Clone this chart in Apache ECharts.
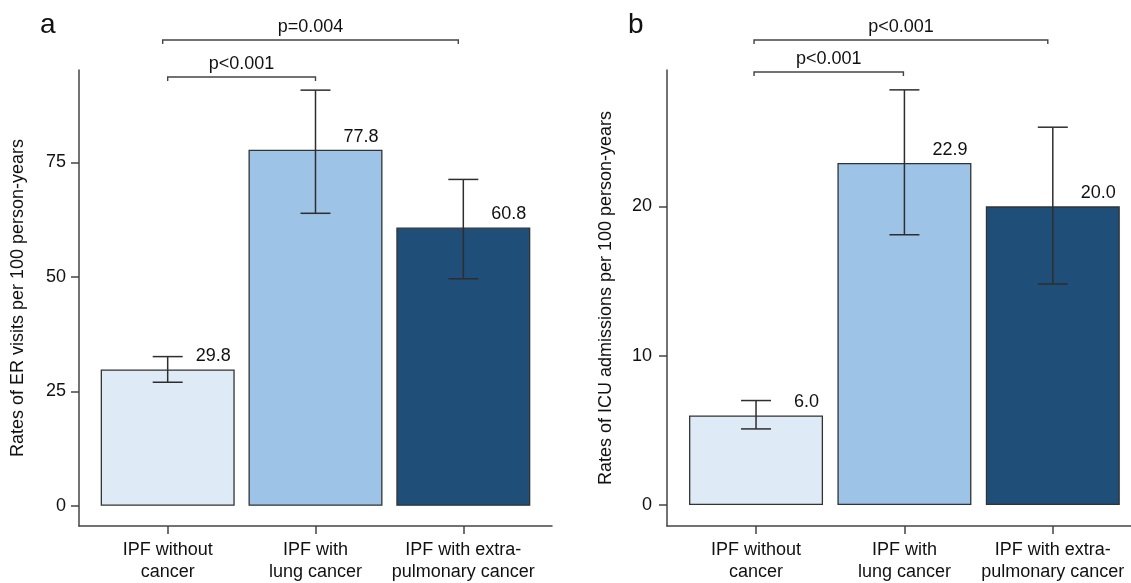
<!DOCTYPE html>
<html>
<head>
<meta charset="utf-8">
<script src="https://cdn.jsdelivr.net/npm/echarts@6/dist/echarts.min.js"></script>
<style>
html,body{margin:0;padding:0;background:#fff;}
#chart{width:1131px;height:583px;}
</style>
</head>
<body>
<div id="chart"></div>
<script>
// ---- data ----
const categories = ['IPF without\ncancer', 'IPF with\nlung cancer', 'IPF with extra-\npulmonary cancer'];
const catPos = [1, 2, 3];

const erRates = [29.8, 77.8, 60.8];
const erLow = [27.0, 63.9, 49.6];
const erHigh = [32.6, 90.8, 71.3];
const erTicks = [0, 25, 50, 75];

const icuRates = [6.0, 22.9, 20.0];
const icuLow = [5.1, 18.1, 14.8];
const icuHigh = [7.0, 27.8, 25.3];
const icuTicks = [0, 10, 20];

const erPairs = [[1, 2], [1, 3]];
const erPLabels = ['p<0.001', 'p=0.004'];
const icuPairs = [[1, 2], [1, 3]];
const icuPLabels = ['p<0.001', 'p<0.001'];

const panelLetters = ['a', 'b'];
const yTitles = ['Rates of ER visits per 100 person-years', 'Rates of ICU admissions per 100 person-years'];

// ---- style ----
const FONT = '"Liberation Sans", Arial, Helvetica, sans-serif';
const TXT = '#111';
const AX = '#444';
const FS = 18;
const barColors = ['#deeaf6', '#9dc3e6', '#1f4e79'];

const chart = echarts.init(document.getElementById('chart'));

function xAxisDef(gi, max) {
  return {
    gridIndex: gi, type: 'value', min: 0.4, max: max,
    axisLine: { show: true, onZero: false, lineStyle: { color: AX, width: 1.5 } },
    axisTick: { show: true, customValues: catPos, length: 8, lineStyle: { color: AX, width: 1.5 } },
    axisLabel: {
      customValues: catPos, margin: 13, fontSize: FS, lineHeight: 22, color: TXT, fontFamily: FONT,
      formatter: v => categories[Math.round(v) - 1]
    },
    splitLine: { show: false }
  };
}
function yAxisDef(gi, min, max, ticks, title, margin, gap) {
  return {
    gridIndex: gi, type: 'value', min: min, max: max,
    name: title, nameLocation: 'middle', nameGap: gap,
    nameTextStyle: { fontSize: FS, color: TXT, fontFamily: FONT },
    axisLine: { show: true, onZero: false, lineStyle: { color: AX, width: 1.5 } },
    axisTick: { show: true, customValues: ticks, length: 8, lineStyle: { color: AX, width: 1.5 } },
    axisLabel: { customValues: ticks, margin: margin, fontSize: FS, color: TXT, fontFamily: FONT },
    splitLine: { show: false }
  };
}
function barSeries(gi, vals) {
  return {
    type: 'bar', xAxisIndex: gi, yAxisIndex: gi, barWidth: 134,
    data: vals.map((v, i) => ({ value: [catPos[i], v], itemStyle: { color: barColors[i] } })),
    itemStyle: { borderColor: '#333', borderWidth: 1.3 },
    label: {
      show: true, position: ['100%', 0], align: 'right', verticalAlign: 'bottom',
      offset: [-4, -4], fontSize: FS, color: TXT, fontFamily: FONT,
      formatter: p => p.value[1].toFixed(1)
    },
    z: 2
  };
}
function errSeries(gi, lows, highs) {
  return {
    type: 'custom', xAxisIndex: gi, yAxisIndex: gi, z: 5,
    data: lows.map((l, i) => [catPos[i], l, highs[i]]),
    encode: { x: 0, y: [1, 2] },
    renderItem: (params, api) => {
      const top = api.coord([api.value(0), api.value(2)]);
      const bot = api.coord([api.value(0), api.value(1)]);
      const hw = 15;
      const st = { stroke: '#2e2e2e', lineWidth: 1.5 };
      return { type: 'group', children: [
        { type: 'line', shape: { x1: top[0], y1: top[1], x2: bot[0], y2: bot[1] }, style: st },
        { type: 'line', shape: { x1: top[0] - hw, y1: top[1], x2: top[0] + hw, y2: top[1] }, style: st },
        { type: 'line', shape: { x1: bot[0] - hw, y1: bot[1], x2: bot[0] + hw, y2: bot[1] }, style: st }
      ]};
    }
  };
}
function bracketSeries(gi, pairs, labels, levels, endOffsets) {
  return {
    type: 'custom', xAxisIndex: gi, yAxisIndex: gi, clip: false, z: 5, silent: true,
    data: pairs.map((p, i) => [p[0], p[1], i]),
    encode: { x: [0, 1] },
    renderItem: (params, api) => {
      const i = api.value(2);
      const cs = params.coordSys;
      const x1 = api.coord([api.value(0), 0])[0] + endOffsets[i][0];
      const x2 = api.coord([api.value(1), 0])[0] + endOffsets[i][1];
      const y = cs.y + levels[i];
      return { type: 'group', children: [
        { type: 'polyline', shape: { points: [[x1, y + 4], [x1, y], [x2, y], [x2, y + 4]] },
          style: { stroke: '#444', lineWidth: 1.4, fill: null } },
        { type: 'text', x: (x1 + x2) / 2, y: y - 4,
          style: { text: labels[i], align: 'center', verticalAlign: 'bottom', fontSize: FS, fill: TXT, fontFamily: FONT } }
      ]};
    }
  };
}

const option = {
  animation: false,
  backgroundColor: '#fff',
  title: [
    { text: panelLetters[0], left: 35, top: 6, textStyle: { fontSize: 28, fontWeight: 'normal', color: TXT, fontFamily: FONT } },
    { text: panelLetters[1], left: 623, top: 6, textStyle: { fontSize: 28, fontWeight: 'normal', color: TXT, fontFamily: FONT } }
  ],
  grid: [
    { left: 79, top: 70, width: 473, height: 458 },
    { left: 667, top: 70, width: 464, height: 458 }
  ],
  xAxis: [xAxisDef(0, 3.6), xAxisDef(1, 3.527)],
  yAxis: [
    yAxisDef(0, -4.4, 95.2, erTicks, yTitles[0], 13, 52),
    yAxisDef(1, -1.4, 29.13, icuTicks, yTitles[1], 15, 52)
  ],
  series: [
    barSeries(0, erRates), errSeries(0, erLow, erHigh),
    bracketSeries(0, erPairs, erPLabels, [7, -30], [[0, 0], [-5, -5]]),
    barSeries(1, icuRates), errSeries(1, icuLow, icuHigh),
    bracketSeries(1, icuPairs, icuPLabels, [2, -30], [[-2, -1], [-2, -5]])
  ]
};
chart.setOption(option);
</script>
</body>
</html>
